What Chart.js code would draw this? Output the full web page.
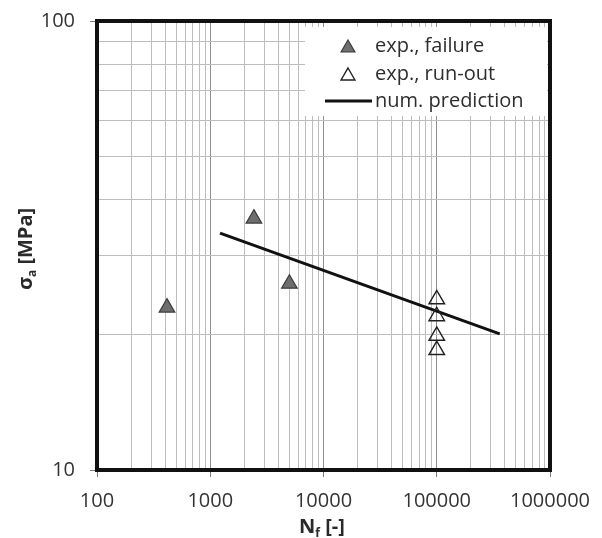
<!DOCTYPE html>
<html>
<head>
<meta charset="utf-8">
<script src="https://cdn.jsdelivr.net/npm/chart.js@4/dist/chart.umd.min.js"></script>
<style>
html,body{margin:0;padding:0;background:#fff;}
#wrap{width:602px;height:538px;position:relative;}
</style>
</head>
<body>
<div id="wrap"><canvas id="c" width="602" height="538"></canvas></div>
<script>
// ---- data ----
const failureN = [415, 2430, 5000];
const failureS = [23.0, 36.3, 26.0];
const runoutN = [100000, 100000, 100000, 100000];
const runoutS = [24.0, 22.0, 19.9, 18.5];
const predN = [1220, 360000];
const predS = [33.7, 20.1];
const xTicks = [100,200,300,400,500,600,700,800,900,1000,2000,3000,4000,5000,6000,7000,8000,9000,
  10000,20000,30000,40000,50000,60000,70000,80000,90000,100000,200000,300000,400000,500000,600000,700000,800000,900000,1000000];
const yTicks = [10,20,30,40,50,60,70,80,90,100];
const legendLabels = ['exp., failure', 'exp., run-out', 'num. prediction'];
const xTitle = ['N', 'f', ' [-]'];
const yTitle = ['σ', 'a', ' [MPa]'];

const FONT = "'Open Sans', 'DejaVu Sans', sans-serif";
const isDecade = v => Math.abs(Math.log10(v) - Math.round(Math.log10(v))) < 1e-9;

function tri(ctx, x, y, r, fill, stroke, lw) {
  ctx.beginPath();
  for (let i = 0; i < 3; i++) {
    const a = i * 2 * Math.PI / 3;
    const px = x + Math.sin(a) * r, py = y - Math.cos(a) * r;
    if (i === 0) ctx.moveTo(px, py); else ctx.lineTo(px, py);
  }
  ctx.closePath();
  ctx.fillStyle = fill; ctx.fill();
  ctx.lineWidth = lw; ctx.strokeStyle = stroke; ctx.stroke();
}

const decor = {
  id: 'decor',
  beforeDatasetsDraw(chart) {
    const ctx = chart.ctx;
    ctx.save();
    // legend box (white, covers grid)
    ctx.fillStyle = '#fff';
    ctx.fillRect(305, 27, 242, 89);
    ctx.font = '20px ' + FONT;
    ctx.textBaseline = 'alphabetic';
    ctx.textAlign = 'left';
    tri(ctx, 348, 48, 8, '#6e6e6e', '#3c3c3c', 1.2);
    ctx.fillStyle = '#2e2e2e';
    ctx.fillText(legendLabels[0], 375, 52);
    tri(ctx, 348, 76, 8, '#ffffff', '#222', 1.4);
    ctx.fillStyle = '#2e2e2e';
    ctx.fillText(legendLabels[1], 375, 80);
    ctx.beginPath();
    ctx.moveTo(325, 101); ctx.lineTo(372, 101);
    ctx.lineWidth = 3; ctx.strokeStyle = '#111'; ctx.stroke();
    ctx.fillText(legendLabels[2], 375, 107);
    ctx.restore();
  },
  afterDraw(chart) {
    const ctx = chart.ctx, a = chart.chartArea;
    ctx.save();
    // frame
    ctx.lineWidth = 4;
    ctx.strokeStyle = '#111';
    ctx.strokeRect(a.left, a.top, a.right - a.left, a.bottom - a.top);
    // axis titles with subscripts
    ctx.fillStyle = '#2a2a2a';
    ctx.textBaseline = 'alphabetic';
    function drawSub(parts, cx, cy) {
      const big = 'bold 20px ' + FONT, small = 'bold 12px ' + FONT;
      ctx.font = big; const w0 = ctx.measureText(parts[0]).width;
      const w2 = ctx.measureText(parts[2]).width;
      ctx.font = small; const w1 = ctx.measureText(parts[1]).width;
      const total = w0 + w1 + w2;
      let x = cx - total / 2;
      ctx.font = big; ctx.fillText(parts[0], x, cy); x += w0;
      ctx.font = small; ctx.fillText(parts[1], x, cy + 4); x += w1;
      ctx.font = big; ctx.fillText(parts[2], x, cy);
    }
    drawSub(xTitle, 322, 533);
    ctx.save();
    ctx.translate(32, 249);
    ctx.rotate(-Math.PI / 2);
    drawSub(yTitle, 0, 0);
    ctx.restore();
    ctx.restore();
  }
};

const gridColor = c => (c.tick && isDecade(c.tick.value)) ? '#8f8f8f' : '#bdbdbd';
const tickColor = c => (c.tick && isDecade(c.tick.value)) ? '#7a7a7a' : 'rgba(0,0,0,0)';

new Chart(document.getElementById('c'), {
  type: 'scatter',
  data: {
    datasets: [
      {
        label: legendLabels[2],
        data: predN.map((n, i) => ({x: n, y: predS[i]})),
        showLine: true,
        borderColor: '#111',
        borderWidth: 3,
        pointRadius: 0,
        order: 3
      },
      {
        label: legendLabels[0],
        data: failureN.map((n, i) => ({x: n, y: failureS[i]})),
        pointStyle: 'triangle',
        pointRadius: 9,
        backgroundColor: '#6e6e6e',
        borderColor: '#3c3c3c',
        borderWidth: 1.2,
        order: 1
      },
      {
        label: legendLabels[1],
        data: runoutN.map((n, i) => ({x: n, y: runoutS[i]})),
        pointStyle: 'triangle',
        pointRadius: 9,
        backgroundColor: 'rgba(255,255,255,0)',
        borderColor: '#222',
        borderWidth: 1.4,
        order: 2
      }
    ]
  },
  options: {
    responsive: false,
    animation: false,
    layout: {padding: {left: 0, top: 21, right: 52, bottom: 0}},
    plugins: {legend: {display: false}, tooltip: {enabled: false}},
    scales: {
      x: {
        type: 'logarithmic',
        min: 100, max: 1000000,
        afterBuildTicks: s => { s.ticks = xTicks.map(v => ({value: v})); },
        afterFit: s => { s.height = 68; s.paddingLeft = 0; s.paddingRight = 0; },
        grid: {color: gridColor, tickColor: tickColor, tickLength: 7, lineWidth: 1},
        border: {display: false},
        ticks: {
          autoSkip: false, maxRotation: 0, padding: 12,
          color: '#333', font: {family: FONT, size: 20},
          callback: v => isDecade(v) ? String(v) : ''
        }
      },
      y: {
        type: 'logarithmic',
        min: 10, max: 100,
        afterBuildTicks: s => { s.ticks = yTicks.map(v => ({value: v})); },
        afterFit: s => { s.width = 97; s.paddingTop = 0; s.paddingBottom = 0; },
        grid: {color: gridColor, tickColor: tickColor, tickLength: 7, lineWidth: 1},
        border: {display: false},
        ticks: {
          autoSkip: false, padding: 15,
          color: '#333', font: {family: FONT, size: 20},
          callback: v => isDecade(v) ? String(v) : ''
        }
      }
    }
  },
  plugins: [decor]
});
</script>
</body>
</html>
